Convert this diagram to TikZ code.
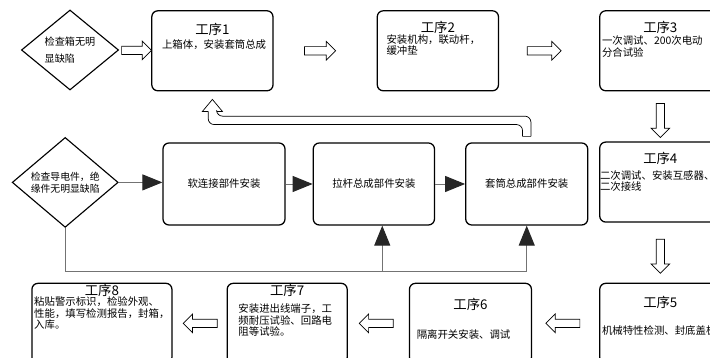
\documentclass[tikz,border=0pt]{standalone}
\usepackage{fontspec}
\setmainfont{Noto Sans CJK SC}
\usetikzlibrary{shapes,arrows.meta,positioning,calc}

\begin{document}
\begin{tikzpicture}[
    block/.style={rectangle, draw, rounded corners=0.15cm, line width=0.9pt, minimum width=3.03cm, minimum height=2cm},
    check/.style={diamond, draw, line width=0.8pt, minimum width=2.43cm, minimum height=2cm, inner sep=0pt, align=left, font=\fontsize{7.2}{8.6}\selectfont},
    head/.style={anchor=center, inner sep=0pt, font=\fontsize{9.5}{11}\selectfont},
    body/.style={anchor=north west, inner sep=0pt, align=left, font=\fontsize{7.4}{8.3}\selectfont},
    hollow/.style={single arrow, draw, line width=0.5pt, fill=white, minimum height=0.85cm, inner xsep=0pt, inner ysep=0.095cm, single arrow head extend=0.13cm},
    link/.style={draw=black!55, line width=0.7pt, -{Triangle[length=0.5cm, width=0.4cm, color=black!85]}},
    back/.style={draw, line width=0.5pt}
]
\useasboundingbox (0,0) rectangle (17.75,8.95);

% top row
\node[check] (d1) at (1.75,7.70) {检查箱无明\\[4pt]显缺陷};
\node[block, label={[head, yshift=-0.48cm]above:工序1}, label={[body, xshift=-1.265cm, yshift=-0.72cm]above:{上箱体，安装套筒总成}}] (p1) at (5.31,7.68) {};
\node[block, right=2.575cm of p1, label={[head, yshift=-0.43cm]above:工序2}, label={[body, xshift=-1.29cm, yshift=-0.6cm]above:{安装机构，联动杆，\\缓冲垫}}] (p2) {};
\node[block, right=2.5cm of p2, label={[head, yshift=-0.44cm]above:工序3}, label={[body, xshift=-1.465cm, yshift=-0.63cm]above:{一次调试、200次电动\\分合试验}}] (p3) {};

% right column and bottom row
\node[block, below=1.25cm of p3, label={[head, yshift=-0.43cm]above:工序4}, label={[body, xshift=-1.515cm, yshift=-0.72cm]above:{二次调试、安装互感器、\\二次接线}}] (p4) {};
\node[block, below=1.5cm of p4, label={[head, yshift=-0.5cm]above:工序5}, label={[body, xshift=-1.465cm, yshift=-1.07cm]above:{机械特性检测、封底盖板}}] (p5) {};
\node[block, left=1.675cm of p5, minimum width=3.05cm, label={[head, yshift=-0.55cm]above:工序6}, label={[body, xshift=-1.35cm, yshift=-1.17cm]above:{隔离开关安装、调试}}] (p6) {};
\node[block, left=1.525cm of p6, minimum width=3cm, label={[head, yshift=-0.2cm]above:工序7}, label={[body, xshift=-1.225cm, yshift=-0.52cm]above:{安装进出线端子，工\\频耐压试验、回路电\\阻等试验。}}] (p7) {};
\node[block, left=1.35cm of p7, minimum width=3.5cm, label={[head, yshift=-0.2cm]above:工序8}, label={[body, xshift=-1.7cm, yshift=-0.34cm]above:{粘贴警示标识，检验外观、\\性能，填写检测报告，封箱，\\入库。}}] (p8) {};

% middle row
\node[check, minimum width=2.65cm, minimum height=2.03cm, font=\fontsize{7}{8.4}\selectfont] (d2) at (1.63,4.39) {检查导电件，绝\\缘件无明显缺陷};
\node[block, minimum width=3.05cm, minimum height=2.05cm, font=\fontsize{7.4}{8.3}\selectfont] (soft) at (5.60,4.35) {软连接部件安装};
\node[block, right=0.675cm of soft, minimum height=2.05cm, font=\fontsize{7.4}{8.3}\selectfont] (rod) {拉杆总成部件安装};
\node[block, right=0.75cm of rod, minimum width=3.05cm, minimum height=2.05cm, font=\fontsize{7.4}{8.3}\selectfont] (sleeve) {套筒总成部件安装};

% hollow arrows
\node[hollow, minimum height=0.75cm] (a0) at ($(d1.east)!0.48!(p1.west)$) {};
\node[hollow, minimum height=0.78cm] (a1) at ($(p1.east)!0.43!(p2.west)$) {};
\node[hollow] (a2) at ($(p2.east)!0.43!(p3.west)$) {};
\node[hollow, rotate=-90] (a3) at ($(p3.south)!0.54!(p4.north)$) {};
\node[hollow, rotate=-90] (a4) at ($(p4.south)!0.525!(p5.north)$) {};
\node[hollow, rotate=180] (a5) at ($(p5.west)!0.51!(p6.east)$) {};
\node[hollow, rotate=180] (a6) at ($(p6.west)!0.5!(p7.east)$) {};
\node[hollow, rotate=180] (a7) at ($(p7.west)!0.45!(p8.east)$) {};

% parts flow
\draw[link] (d2.east) -- (d2.east -| soft.west);
\draw[link] (soft.east) -- (soft.east -| rod.west);
\draw[link] (rod.east) -- (rod.east -| sleeve.west);
\draw[link] (d2.south) -- ++(0,-1.08) coordinate (bus) -| (sleeve.south);
\coordinate (rodfoot) at ([xshift=0.21cm]rod.south);
\draw[link] (rodfoot |- bus) -- (rodfoot);

% return to step 1
\coordinate (rs) at ([yshift=0.15cm]sleeve.north);
\coordinate (rt) at ([yshift=-0.2cm]p1.south);
\coordinate (ra) at ([yshift=0.4cm]rs);
\coordinate (rb) at (rt |- ra);
\coordinate (rh) at ([yshift=-0.3cm]rt);
\draw[back, rounded corners=0.15cm] ([xshift=0.105cm]rs) -- ([shift={(0.105,0.105)}]ra) -- ([shift={(0.105,0.105)}]rb) -- ([xshift=0.105cm]rh)
    ([xshift=-0.105cm]rs) -- ([shift={(-0.105,-0.105)}]ra) -- ([shift={(-0.105,-0.105)}]rb) -- ([xshift=-0.105cm]rh);
\draw[back] ([xshift=0.105cm]rh) -- ([xshift=0.25cm]rh) -- (rt) -- ([xshift=-0.25cm]rh) -- ([xshift=-0.105cm]rh)
    ([xshift=-0.105cm]rs) -- ([xshift=0.105cm]rs);

\end{tikzpicture}
\end{document}
